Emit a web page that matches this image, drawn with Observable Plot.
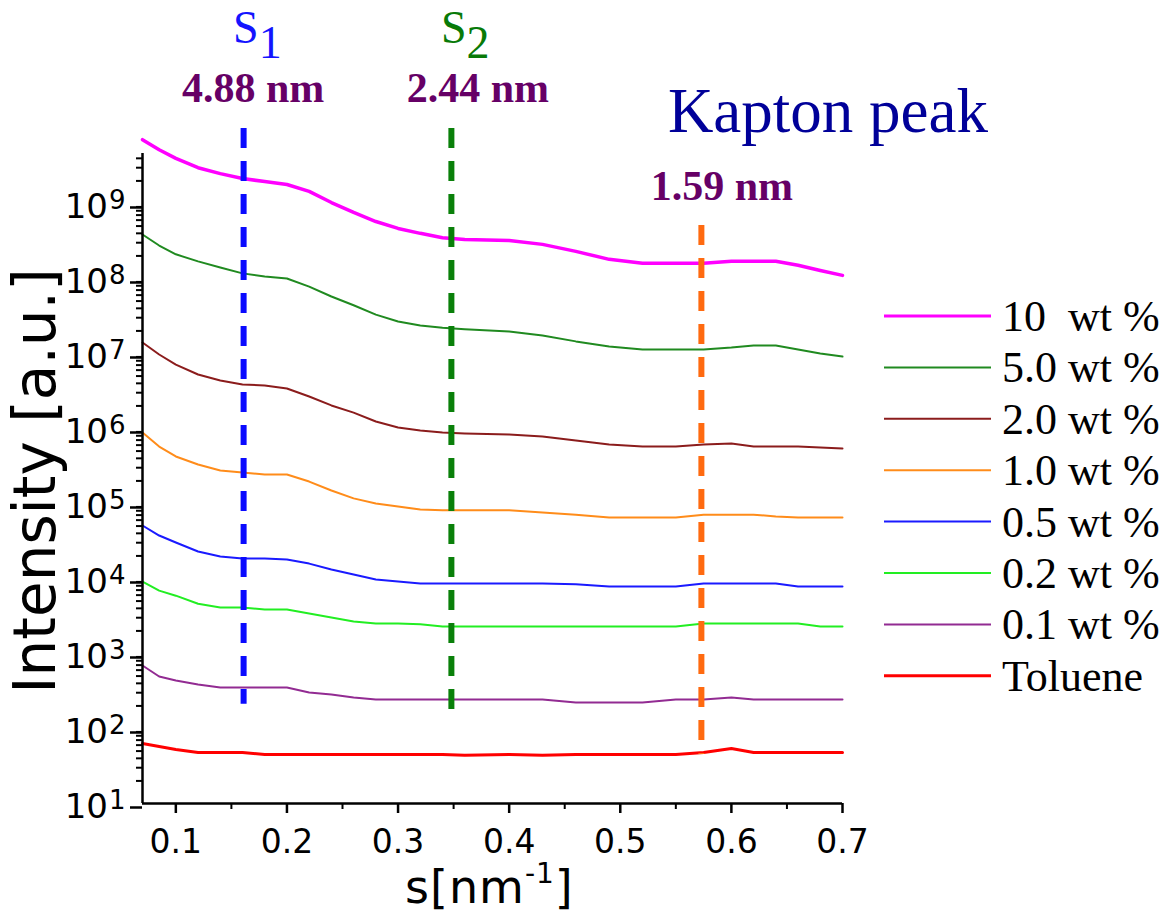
<!DOCTYPE html>
<html><head><meta charset="utf-8">
<script src="https://cdn.jsdelivr.net/npm/d3@7"></script>
<script src="https://cdn.jsdelivr.net/npm/@observablehq/plot@0.6"></script>
<style>
html,body{margin:0;padding:0;background:#fff;}
#chart{width:1169px;height:920px;}
</style></head><body><div id="chart"></div>
<script>
// ---- data ----
const s = [0.07, 0.085, 0.10, 0.12, 0.14, 0.16, 0.18, 0.20, 0.22, 0.24, 0.26, 0.28, 0.30, 0.32, 0.34, 0.36, 0.40, 0.43, 0.46, 0.49, 0.52, 0.55, 0.575, 0.60, 0.62, 0.64, 0.66, 0.68, 0.70];
const wt10 = [7.1e9, 5.2e9, 4.0e9, 3.0e9, 2.5e9, 2.15e9, 1.96e9, 1.79e9, 1.45e9, 1.03e9, 7.6e8, 5.75e8, 4.65e8, 4.0e8, 3.5e8, 3.3e8, 3.2e8, 2.85e8, 2.3e8, 1.8e8, 1.6e8, 1.6e8, 1.6e8, 1.7e8, 1.7e8, 1.7e8, 1.5e8, 1.28e8, 1.1e8];
const wt5 = [3.86e8, 2.75e8, 2.1e8, 1.69e8, 1.4e8, 1.17e8, 1.06e8, 1.0e8, 7.8e7, 5.75e7, 4.4e7, 3.3e7, 2.67e7, 2.36e7, 2.2e7, 2.1e7, 1.96e7, 1.74e7, 1.45e7, 1.24e7, 1.13e7, 1.13e7, 1.13e7, 1.2e7, 1.28e7, 1.28e7, 1.13e7, 1.0e7, 9.1e6];
const wt2 = [1.40e7, 9.7e6, 7.1e6, 5.25e6, 4.37e6, 3.86e6, 3.74e6, 3.41e6, 2.67e6, 2.03e6, 1.63e6, 1.24e6, 1.03e6, 9.4e5, 8.85e5, 8.6e5, 8.3e5, 7.8e5, 6.9e5, 6.1e5, 5.75e5, 5.75e5, 6.1e5, 6.3e5, 5.75e5, 5.75e5, 5.75e5, 5.6e5, 5.4e5];
const wt1 = [8.85e5, 5.75e5, 4.24e5, 3.31e5, 2.75e5, 2.59e5, 2.44e5, 2.44e5, 1.96e5, 1.49e5, 1.17e5, 1.0e5, 9.1e4, 8.3e4, 8.1e4, 8.1e4, 8.1e4, 7.6e4, 7.1e4, 6.5e4, 6.5e4, 6.5e4, 7.1e4, 7.1e4, 7.1e4, 6.7e4, 6.5e4, 6.5e4, 6.5e4];
const wt05 = [5.09e4, 3.74e4, 3.02e4, 2.29e4, 1.96e4, 1.85e4, 1.85e4, 1.79e4, 1.58e4, 1.32e4, 1.13e4, 9.7e3, 9.1e3, 8.6e3, 8.6e3, 8.6e3, 8.6e3, 8.6e3, 8.4e3, 7.8e3, 7.8e3, 7.8e3, 8.6e3, 8.6e3, 8.6e3, 8.6e3, 7.8e3, 7.8e3, 7.8e3];
const wt02 = [9.1e3, 6.9e3, 5.9e3, 4.6e3, 4.1e3, 4.1e3, 3.86e3, 3.86e3, 3.41e3, 3.02e3, 2.67e3, 2.51e3, 2.51e3, 2.45e3, 2.29e3, 2.29e3, 2.29e3, 2.29e3, 2.29e3, 2.29e3, 2.29e3, 2.29e3, 2.51e3, 2.51e3, 2.51e3, 2.51e3, 2.51e3, 2.29e3, 2.29e3];
const wt01 = [692, 493, 437, 386, 352, 352, 352, 352, 302, 284, 259, 244, 244, 244, 244, 244, 244, 244, 222, 222, 222, 244, 244, 259, 244, 244, 244, 244, 244];
const toluene = [63, 57.5, 52.5, 48, 48, 48, 45, 45, 45, 45, 45, 45, 45, 45, 45, 44, 45, 44, 45, 45, 45, 45, 48, 54, 48, 48, 48, 48, 48];

const seriesNames = ["10  wt %", "5.0 wt %", "2.0 wt %", "1.0 wt %", "0.5 wt %", "0.2 wt %", "0.1 wt %", "Toluene"];
const seriesValues = [wt10, wt5, wt2, wt1, wt05, wt02, wt01, toluene];
const seriesColors = ["#ff00ff", "#208a20", "#8b1c1c", "#ff8c1a", "#1a1aff", "#22ee22", "#922b92", "#ff0000"];
const seriesWidths = [3.5, 2, 2, 2, 2, 2, 2, 3];

// characteristic peaks
const peakS = [0.161, 0.348, 0.573];
const peakNames = ["S", "S", ""];
const peakSubs = ["1", "2", ""];
const peakD = ["4.88 nm", "2.44 nm", "1.59 nm"];
const peakTop = [1e10, 1e10, 5.1e8];
const peakBottom = [210, 120, 45];
const peakColors = ["#0a0aff", "#0a800a", "#ff6a10"];
const peakTextColors = ["#1414ff", "#087a08", ""];

// axes
const xDomain = [0.07, 0.7];
const yDomain = [10, 4.64e9];
const xMajor = [0.1, 0.2, 0.3, 0.4, 0.5, 0.6, 0.7];
const xMinor = [0.15, 0.25, 0.35, 0.45, 0.55, 0.65];
const yMajor = [1e1, 1e2, 1e3, 1e4, 1e5, 1e6, 1e7, 1e8, 1e9];
const yMinor = [];
for (let k = 1; k <= 9; k++) for (let m = 2; m <= 9; m++) { const v = m * Math.pow(10, k); if (v <= yDomain[1]) yMinor.push(v); }

// ---- tidy tables ----
const rows = seriesNames.flatMap((name, i) => s.map((x, j) => ({s: x, I: seriesValues[i][j], name})));
const peaks = peakS.map((x, i) => ({s: x, top: peakTop[i], bottom: peakBottom[i], color: peakColors[i]}));

const FONT = "'DejaVu Sans', sans-serif";
const plot = Plot.plot({
  width: 1169, height: 920,
  marginLeft: 142, marginRight: 327, marginTop: 153, marginBottom: 117,
  x: {domain: xDomain},
  y: {type: "log", domain: yDomain},
  style: {fontFamily: FONT, background: "#fff", color: "#000", overflow: "visible"},
  marks: [
    ...seriesNames.map((name, i) => Plot.line(rows.filter(d => d.name === name), {x: "s", y: "I", stroke: seriesColors[i], strokeWidth: seriesWidths[i]})),
    Plot.ruleX(peaks, {x: "s", y1: "top", y2: "bottom", stroke: "color", strokeWidth: 6, strokeDasharray: "20,13", strokeLinecap: "butt"}),
    Plot.axisY(yMinor, {tickSize: 6, tickFormat: () => "", label: null, strokeWidth: 2}),
    Plot.axisY(yMajor, {tickSize: 12, tickPadding: 5, fontSize: 34, dy: 4, tickFormat: d => String(Math.round(Math.log10(d))), label: null, strokeWidth: 2.5}),
    Plot.axisX(xMinor, {tickSize: 6, tickFormat: () => "", label: null, strokeWidth: 2}),
    Plot.axisX(xMajor, {tickSize: 10, tickPadding: 16, fontSize: 33, tickFormat: d => d.toFixed(1), label: null, strokeWidth: 2.5}),
    Plot.ruleX([xDomain[0]], {y1: yDomain[0], y2: yDomain[1], strokeWidth: 2.5}),
    Plot.ruleY([yDomain[0]], {strokeWidth: 2.5})
  ]
});
document.getElementById("chart").appendChild(plot);

const svg = d3.select(plot);
const X = v => plot.scale("x").apply(v);
const Y = v => plot.scale("y").apply(v);

// y tick labels as 10^n
svg.selectAll('g[aria-label="y-axis tick label"] text').each(function () {
  const t = d3.select(this);
  const e = t.text();
  if (!e) return;
  t.text("");
  t.append("tspan").text("10");
  t.append("tspan").attr("dx", 1).attr("dy", -9).attr("font-size", 26).text(e);
});

// axis titles
const frameL = 142, frameR = 1169 - 327, frameT = 153, frameB = 920 - 117;
svg.append("text")
  .attr("transform", `translate(55,${(frameT + frameB) / 2 + 3}) rotate(-90)`)
  .attr("text-anchor", "middle").attr("font-size", 58).attr("font-family", FONT)
  .text("Intensity [a.u.]");
const xl = svg.append("text")
  .attr("x", (frameL + frameR) / 2 - 87).attr("y", 903).attr("text-anchor", "start")
  .attr("font-size", 46).attr("font-family", FONT).attr("letter-spacing", 1);
xl.append("tspan").text("s[nm");
xl.append("tspan").attr("dy", -20).attr("font-size", 28).text("-1");
xl.append("tspan").attr("dy", 20).text("]");

// peak annotations
const labelDx = [10, 27, 21];
peakS.forEach((p, i) => {
  if (peakNames[i]) {
    const t = svg.append("text").attr("x", X(p) - 10).attr("y", 43).attr("text-anchor", "start")
      .attr("font-family", "'Liberation Serif', serif").attr("font-size", 46).attr("fill", peakTextColors[i]);
    t.append("tspan").text(peakNames[i]);
    t.append("tspan").attr("dy", 15).text(peakSubs[i]);
  }
  svg.append("text").attr("x", X(p) + labelDx[i]).attr("y", i === 2 ? Y(peakTop[i]) - 25 : 102)
    .attr("text-anchor", "middle").attr("font-family", "'Liberation Serif', serif").attr("font-weight", "bold")
    .attr("font-size", 42).attr("fill", "#660066").text(peakD[i]);
});
svg.append("text").attr("x", X(peakS[2]) - 33).attr("y", 132).attr("text-anchor", "start")
  .attr("font-family", "'Liberation Serif', serif").attr("font-size", 63).attr("fill", "#000099")
  .text("Kapton peak");

// legend
const lg = svg.append("g").attr("text-anchor", "start");
seriesNames.forEach((name, i) => {
  const yy = 316 + i * 51.4;
  lg.append("line").attr("x1", 884).attr("x2", 991).attr("y1", yy).attr("y2", yy)
    .attr("stroke", seriesColors[i]).attr("stroke-width", seriesWidths[i] > 2 ? 3 : 2);
  lg.append("text").attr("x", 1002).attr("y", yy + 15).attr("text-anchor", "start")
    .attr("font-family", "'Liberation Serif', serif").attr("font-size", 44).attr("fill", "#000")
    .style("white-space", "pre").text(name);
});
</script></body></html>
